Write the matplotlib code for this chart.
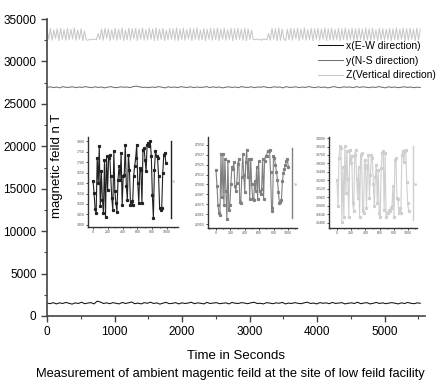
import numpy as np
import matplotlib
matplotlib.use('Agg')
import matplotlib.pyplot as plt
from matplotlib.ticker import MultipleLocator

plt.rcParams['font.family'] = ['Liberation Sans', 'DejaVu Sans']

# main traces (nT), sampled evenly over ~5530 s
x_main = [1525, 1450, 1575, 1425, 1550, 1475, 1600, 1500, 1400, 1550, 1475, 1625, 1450, 1525, 1575, 1425,
          1750, 1650, 1475, 1550, 1450, 1575, 1500, 1425, 1600, 1475, 1550, 1650, 1450, 1525, 1425, 1575,
          1500, 1625, 1475, 1550, 1400, 1525, 1600, 1450, 1500, 1575, 1425, 1550, 1475, 1525, 1625, 1450,
          1550, 1500, 1425, 1600, 1475, 1525, 1575, 1450, 1500, 1550, 1425, 1600, 1500, 1475, 1575, 1525,
          1450, 1550, 1625, 1475, 1500, 1425, 1575, 1525, 1450, 1550, 1500, 1600, 1425, 1525, 1475, 1575,
          1500, 1450, 1550, 1625, 1475, 1525, 1425, 1575, 1500, 1550, 1450, 1600, 1475, 1525, 1575, 1425,
          1500, 1550, 1475, 1625, 1450, 1525, 1575, 1425, 1500, 1600, 1475, 1550, 1450, 1525, 1575, 1500,
          1425, 1550, 1475, 1600, 1500, 1450, 1550, 1500]
y_main = [26935, 27010, 26910, 26985, 26885, 27035, 26935, 26960, 27010, 26910, 26985, 26935, 27035, 26960,
          26910, 27010, 26935, 26985, 26885, 26960, 27035, 26935, 26910, 27010, 26960, 26985, 26910, 27035,
          27085, 27010, 26935, 26960, 26910, 26985, 26935, 27035, 26960, 26885, 27010, 26935, 26985, 26910,
          27035, 26960, 26935, 27010, 26910, 26985, 26935, 26960, 27035, 26910, 27010, 26935, 26985, 26885,
          26960, 27010, 26935, 26985, 26910, 27035, 26960, 26935, 27010, 26910, 26985, 26960, 27035, 26935,
          26910, 27010, 26960, 26985, 26885, 27035, 26935, 26960, 27010, 26910, 26985, 26935, 27035, 26960,
          26910, 27010, 26935, 26985, 26885, 26960, 27035, 26935, 26910, 27010, 26960, 26985, 26910, 27035,
          26935, 27010, 26960, 26910, 26985, 26935, 27035, 26960, 26885, 27010, 26935, 26985, 26910, 26960,
          27010, 26935, 26985, 26910, 26960, 26935]
z_main = [33800, 32600, 33900, 32500, 33700, 32700, 33850, 32450, 33900, 32600, 33750, 32500, 33900, 32550, 33800, 32650, 33950, 32500, 33700, 32600,
          33850, 32450, 33600, 32550, 32500, 32600, 32550, 32650, 32600, 32550, 33300, 32600, 33800, 32500, 33900, 32700, 33850, 32450, 33750, 32600,
          33900, 32500, 33800, 32600, 33950, 32450, 33700, 32550, 33900, 32500, 33850, 32650, 33900, 32450, 33800, 32600, 33950, 32500, 33750, 32550,
          33900, 32600, 33850, 32450, 33950, 32500, 33800, 32600, 33900, 32450, 33700, 32550, 33900, 32600, 33850, 32500, 33950, 32450, 33800, 32600,
          33900, 32500, 33750, 32650, 33900, 32450, 33850, 32600, 33950, 32500, 33700, 32550, 33900, 32450, 33800, 32600, 33900, 32500, 33850, 32550,
          33950, 32450, 33800, 32600, 33900, 32500, 33750, 32600, 33900, 32450, 33850, 32550, 33900, 32600, 33800, 32500, 33900, 32450, 33850, 32600,
          33700, 32600, 32550, 32650, 32550, 32600, 32500, 32650, 32600, 32550, 33300, 32500, 33900, 32600, 33850, 32450, 33950, 32500, 33800, 32600,
          32450, 33800, 32550, 33900, 32500, 33850, 32650, 33900, 32450, 33800, 32600, 33950, 32500, 33750, 32550, 33900, 32450, 33850, 32600, 33900,
          32500, 33800, 32600, 33950, 32450, 33850, 32550, 33900, 32500, 33750, 32600, 33900, 32450, 33850, 32550, 33950, 32500, 33800, 32600, 33900,
          32450, 33850, 32500, 33900, 32600, 33800, 32450, 33950, 32550, 33850, 32500, 33900, 32600, 33750, 32450, 33900, 32550, 33850, 32500, 33800,
          32600, 33900, 32450, 33850, 32550, 33950, 32500, 33800, 32600, 33900, 32450, 33850, 32500, 33900, 32600, 33800, 32450, 33900, 32550, 33800]
t_end = 5530

# inset traces (first ~1000 s)
x_zoom = [1611, 1552, 1475, 1456, 1720, 1600, 1776, 1488, 1656, 1520, 1456, 1712, 1440, 1728, 1568, 1720,
          1736, 1632, 1528, 1472, 1752, 1560, 1504, 1464, 1616, 1680, 1616, 1744, 1496, 1632, 1640, 1784,
          1584, 1520, 1736, 1664, 1496, 1512, 1496, 1632, 1680, 1720, 1784, 1600, 1504, 1672, 1664, 1504,
          1760, 1768, 1712, 1656, 1784, 1792, 1776, 1800, 1728, 1544, 1432, 1664, 1752, 1728, 1720, 1632,
          1480, 1472, 1480, 1648, 1736, 1744, 1696]
y_zoom = [27018, 26998, 26974, 26964, 26962, 27038, 26984, 27038, 26974, 27032, 26992, 26956, 27030, 26968,
          26974, 27000, 27022, 27020, 27028, 26998, 26992, 27002, 27026, 27032, 26978, 26976, 27010, 27038,
          27012, 26990, 27028, 27044, 27010, 27032, 26982, 27032, 27000, 26982, 26980, 27004, 26992, 27022,
          26982, 27030, 26992, 26988, 26994, 27032, 26982, 27030, 27036, 27036, 27042, 27042, 27044, 27016,
          26970, 26966, 27036, 27034, 27024, 27016, 27006, 26990, 26976, 26978, 26980, 27004, 27014, 27020,
          27024, 27030, 27032, 27022]
z_zoom = [33278, 32790, 33700, 33928, 33895, 32498, 33538, 32595, 33928, 33050, 33830, 33310, 32595, 33863,
          33603, 33733, 32855, 32693, 33765, 33863, 33310, 32953, 33538, 32595, 33765, 33798, 32693, 32660,
          33668, 33570, 32758, 33505, 33765, 32953, 33375, 33765, 33700, 33213, 32790, 33343, 33570, 32855,
          33473, 32660, 32595, 33505, 33798, 33830, 32725, 33798, 32595, 32660, 32660, 32725, 32693, 32758,
          32790, 33180, 32595, 33668, 33700, 32953, 32920, 32660, 32758, 32660, 33765, 33830, 33635, 33830,
          33863, 33245, 32855, 32693]
zoom_end = [985, 1005, 1010]

labels = ['x(E-W direction)', 'y(N-S direction)', 'Z(Vertical direction)']
colors = ['#111111', '#707070', '#c8c8c8']
inset_colors = ['#222222', '#808080', '#cfcfcf']

fig = plt.figure(figsize=(4.37, 3.83), dpi=100)
ax = fig.add_axes([47 / 437, 1 - 316 / 383, 378 / 437, 297 / 383])

for vals, lab, c in zip([x_main, y_main, z_main], labels, colors):
    t = np.linspace(0, t_end, len(vals))
    ax.plot(t, vals, color=c, lw=0.75, label=lab)

ax.set_xlim(0, 5600)
ax.set_ylim(0, 35000)
ax.xaxis.set_major_locator(MultipleLocator(1000))
ax.xaxis.set_minor_locator(MultipleLocator(500))
ax.yaxis.set_major_locator(MultipleLocator(5000))
ax.yaxis.set_minor_locator(MultipleLocator(2500))
for s in ['top', 'right']:
    ax.spines[s].set_visible(False)
for s in ['left', 'bottom']:
    ax.spines[s].set_color('#444444')
    ax.spines[s].set_linewidth(1.2)
ax.tick_params(which='major', direction='out', length=4, width=1, color='#444444', labelsize=8.5)
ax.tick_params(which='minor', direction='out', length=2.5, width=0.8, color='#444444')
ax.set_xlabel('Time in Seconds', fontsize=9.5, labelpad=8)

fig.text(57 / 437, 1 - 166 / 383, 'magnetic feild n T', rotation=90, fontsize=9.5,
         ha='center', va='center')
fig.text(0.5 * (32 + 428) / 437, 1 - 374 / 383, 'Measurement of ambient magentic feild at the site of low feild facility',
         fontsize=9.3, ha='center', va='center')

ax.legend(loc='upper left', bbox_to_anchor=(318 / 437, 1 - 41 / 383), bbox_transform=fig.transFigure,
          frameon=False, fontsize=7.5, handlelength=2.4, handletextpad=0.3, labelspacing=0.45,
          borderaxespad=0, borderpad=0)

# insets
inset_boxes = [
    (88, 137, 178, 227, (-68, 1149), (1390, 1820), 50, 1050, (1432, 1800)),
    (208, 137, 297, 228, (-111, 1125), (26945, 27060), 12.5, 1060, (26958, 27046)),
    (329, 137, 417, 228, (-113, 1127), (32380, 34100), 160, 1066, (32530, 33928)),
]
for (l, tp, r, b, xl, yl, ystep, spx, spb), vals, c, end in zip(
        inset_boxes, [x_zoom, y_zoom, z_zoom], inset_colors, zoom_end):
    ia = fig.add_axes([l / 437, 1 - b / 383, (r - l) / 437, (b - tp) / 383])
    ia.patch.set_alpha(0)
    t = np.linspace(0, end, len(vals))
    ia.plot(t, vals, color=c, lw=0.8, marker='s', ms=1.3, mec=c, mfc=c)
    ia.set_xlim(*xl)
    ia.set_ylim(*yl)
    ia.xaxis.set_major_locator(MultipleLocator(200))
    ia.xaxis.set_minor_locator(MultipleLocator(100))
    ia.yaxis.set_major_locator(MultipleLocator(ystep))
    ia.yaxis.set_major_formatter(plt.FormatStrFormatter('%d'))
    ia.spines['top'].set_visible(False)
    ia.spines['right'].set_position(('data', spx))
    ia.spines['right'].set_bounds(*spb)
    ia.spines['right'].set_color(c)
    ia.spines['right'].set_linewidth(1.0)
    for s in ['left', 'bottom']:
        ia.spines[s].set_color('#333333')
        ia.spines[s].set_linewidth(1.0)
    ia.tick_params(which='major', direction='out', length=1.5, width=0.6, labelsize=2.5,
                   pad=1, color='#333333', labelcolor='#555555')
    ia.tick_params(which='minor', direction='out', length=1, width=0.5, color='#333333')
    ia.text(spx + 60, 0.5 * (spb[0] + spb[1]), 'nT', rotation=90, fontsize=2.5,
            color='#999999', ha='center', va='center')

fig.savefig('out.png', dpi=100)
